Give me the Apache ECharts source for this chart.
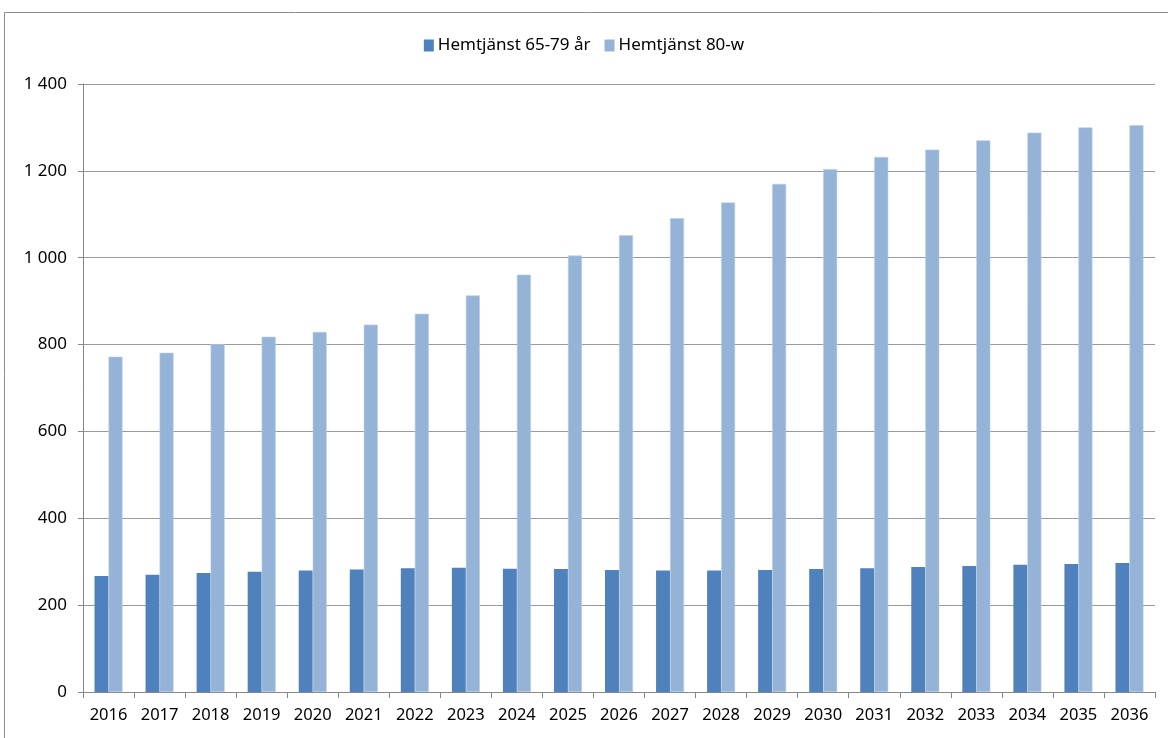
<!DOCTYPE html>
<html>
<head>
<meta charset="utf-8">
<script src="https://cdn.jsdelivr.net/npm/echarts@6/dist/echarts.min.js"></script>
<style>
  html, body { margin: 0; padding: 0; background: #fff; }
  #chart { width: 1168px; height: 738px; }
</style>
</head>
<body>
<div id="chart"></div>
<script>
var years = ['2016', '2017', '2018', '2019', '2020', '2021', '2022', '2023', '2024', '2025', '2026',
             '2027', '2028', '2029', '2030', '2031', '2032', '2033', '2034', '2035', '2036'];
var hemtjanst6579 = [267, 270, 274, 277, 280, 282, 285, 286, 284, 283, 281,
                     280, 280, 281, 283, 285, 288, 290, 293, 295, 297];
var hemtjanst80 = [772, 781, 801, 818, 829, 846, 871, 913, 961, 1005, 1052,
                   1091, 1127, 1170, 1204, 1232, 1249, 1270, 1288, 1300, 1305];
var seriesNames = ['Hemtjänst 65-79 år', 'Hemtjänst 80-w'];

var myChart = echarts.init(document.getElementById('chart'));
var font = 'Noto Sans';

var option = {
    animation: false,
    textStyle: { fontFamily: font },
    color: ['#4f81bd', '#95b3d7'],
    graphic: [{
        type: 'rect',
        shape: { x: 4.5, y: 12.5, width: 1170, height: 740 },
        style: { fill: 'none', stroke: '#8c8c8c', lineWidth: 1 },
        silent: true
    }],
    legend: {
        top: 32,
        left: 'center',
        itemWidth: 10,
        itemHeight: 12,
        itemGap: 14,
        icon: 'rect',
        itemStyle: { borderWidth: 0 },
        textStyle: { fontSize: 17, color: '#000', fontFamily: font, padding: [0, 0, 0, -1] },
        data: seriesNames
    },
    grid: {
        left: 83,
        right: 13,
        top: 84,
        bottom: 46,
        containLabel: false
    },
    xAxis: {
        type: 'category',
        data: years,
        axisLine: { lineStyle: { color: '#868686', width: 1 } },
        axisTick: { show: true, length: 6, lineStyle: { color: '#868686' } },
        axisLabel: { color: '#000', fontSize: 16.5, margin: 15, fontFamily: font }
    },
    yAxis: {
        type: 'value',
        min: 0,
        max: 1400,
        interval: 200,
        axisLine: { show: true, lineStyle: { color: '#868686', width: 1 } },
        axisTick: { show: true, length: 5, lineStyle: { color: '#868686' } },
        splitLine: { lineStyle: { color: '#9a9a9a', width: 1 } },
        axisLabel: {
            color: '#000',
            fontSize: 17,
            margin: 16,
            fontFamily: font,
            formatter: function (v) {
                return String(v).replace(/\B(?=(\d{3})+(?!\d))/g, ' ');
            }
        }
    },
    series: [
        {
            name: seriesNames[0],
            type: 'bar',
            data: hemtjanst6579,
            barWidth: 14,
            barGap: '0%',
            itemStyle: { color: '#4f81bd' }
        },
        {
            name: seriesNames[1],
            type: 'bar',
            data: hemtjanst80,
            barWidth: 14,
            itemStyle: { color: '#95b3d7', borderColor: '#b9cde6', borderWidth: 0.6 }
        }
    ]
};

myChart.setOption(option);
</script>
</body>
</html>
